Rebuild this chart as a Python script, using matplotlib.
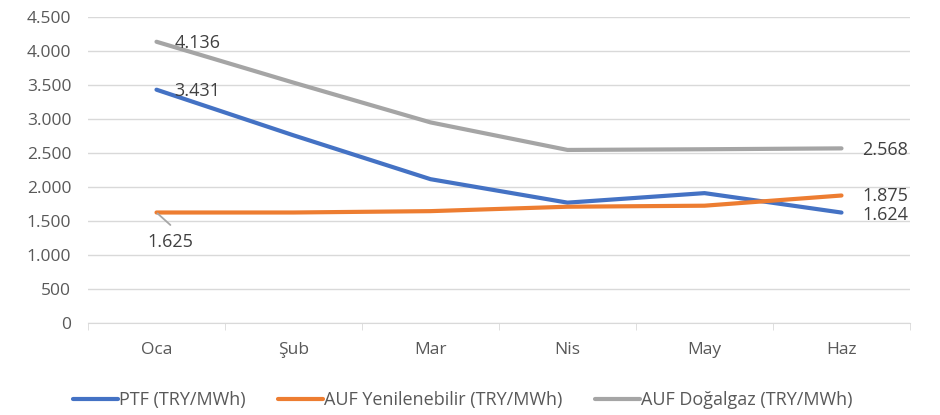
import matplotlib
matplotlib.use("Agg")
import matplotlib.pyplot as plt
from matplotlib.ticker import FuncFormatter, FixedLocator

months = ["Oca", "Şub", "Mar", "Nis", "May", "Haz"]
ptf = [3431, 2760, 2115, 1770, 1910, 1624]
auf_yen = [1625, 1625, 1645, 1710, 1725, 1875]
auf_dog = [4136, 3535, 2950, 2545, 2555, 2568]

series = [
    ("PTF (TRY/MWh)", ptf, "#4472C4"),
    ("AUF Yenilenebilir (TRY/MWh)", auf_yen, "#ED7D31"),
    ("AUF Doğalgaz (TRY/MWh)", auf_dog, "#A5A5A5"),
]

plt.rcParams["font.family"] = ["Open Sans", "DejaVu Sans"]
TXT = "#595959"
LAB = "#404040"


def thousands(v, _):
    return f"{int(v):,}".replace(",", ".")


fig = plt.figure(figsize=(9.4, 4.15), dpi=100)
ax = fig.add_axes([88 / 940, 92 / 415, 822 / 940, 306 / 415])

x = list(range(len(months)))
for name, vals, col in series:
    ax.plot(x, vals, color=col, lw=3, label=name, solid_capstyle="round", zorder=3)

ax.set_xlim(-0.5, len(months) - 0.5)
ax.set_ylim(0, 4500)
ax.set_yticks(range(0, 4501, 500))
ax.yaxis.set_major_formatter(FuncFormatter(thousands))
ax.grid(axis="y", color="#d9d9d9", lw=1)
ax.set_axisbelow(True)
for s in ["top", "right", "left"]:
    ax.spines[s].set_visible(False)
ax.spines["bottom"].set_color("#d9d9d9")
ax.set_xticks(x)
ax.set_xticklabels(months)
ax.xaxis.set_minor_locator(FixedLocator([i - 0.5 for i in range(len(months) + 1)]))
ax.tick_params(axis="x", which="major", length=0, pad=14, labelsize=12.5, labelcolor=TXT)
ax.tick_params(axis="x", which="minor", length=5, color="#d9d9d9")
ax.tick_params(axis="y", length=0, pad=12, labelsize=12.5, labelcolor=TXT)

lab = lambda v: f"{v:,}".replace(",", ".")
fs = 13
ax.annotate(lab(auf_dog[0]), (0, auf_dog[0]), xytext=(13, -1), textcoords="offset points",
            fontsize=fs, color=LAB, va="center")
ax.annotate(lab(ptf[0]), (0, ptf[0]), xytext=(13, -1), textcoords="offset points",
            fontsize=fs, color=LAB, va="center")
# leader line + label below the first orange point
ax.annotate("", (0, auf_yen[0]), xytext=(10, -9), textcoords="offset points",
            arrowprops=dict(arrowstyle="-", color="#a6a6a6", lw=1.3, shrinkA=0, shrinkB=1))
ax.annotate(lab(auf_yen[0]), (0, auf_yen[0]), xytext=(10, -21), textcoords="offset points",
            fontsize=fs, color=LAB, va="center", ha="center")
ax.annotate(lab(auf_dog[-1]), (5, auf_dog[-1]), xytext=(15, -1), textcoords="offset points",
            fontsize=fs, color=LAB, va="center")
ax.annotate(lab(auf_yen[-1]), (5, auf_yen[-1]), xytext=(15, 0), textcoords="offset points",
            fontsize=fs, color=LAB, va="center")
ax.annotate(lab(ptf[-1]), (5, ptf[-1]), xytext=(15, -2), textcoords="offset points",
            fontsize=fs, color=LAB, va="center")

fig.legend(loc="center", bbox_to_anchor=(0.492, 15 / 415), ncol=3, frameon=False,
           fontsize=13, labelcolor=TXT, handlelength=2.5, handletextpad=0.05,
           columnspacing=1.8)

fig.savefig("out.png", dpi=100)
